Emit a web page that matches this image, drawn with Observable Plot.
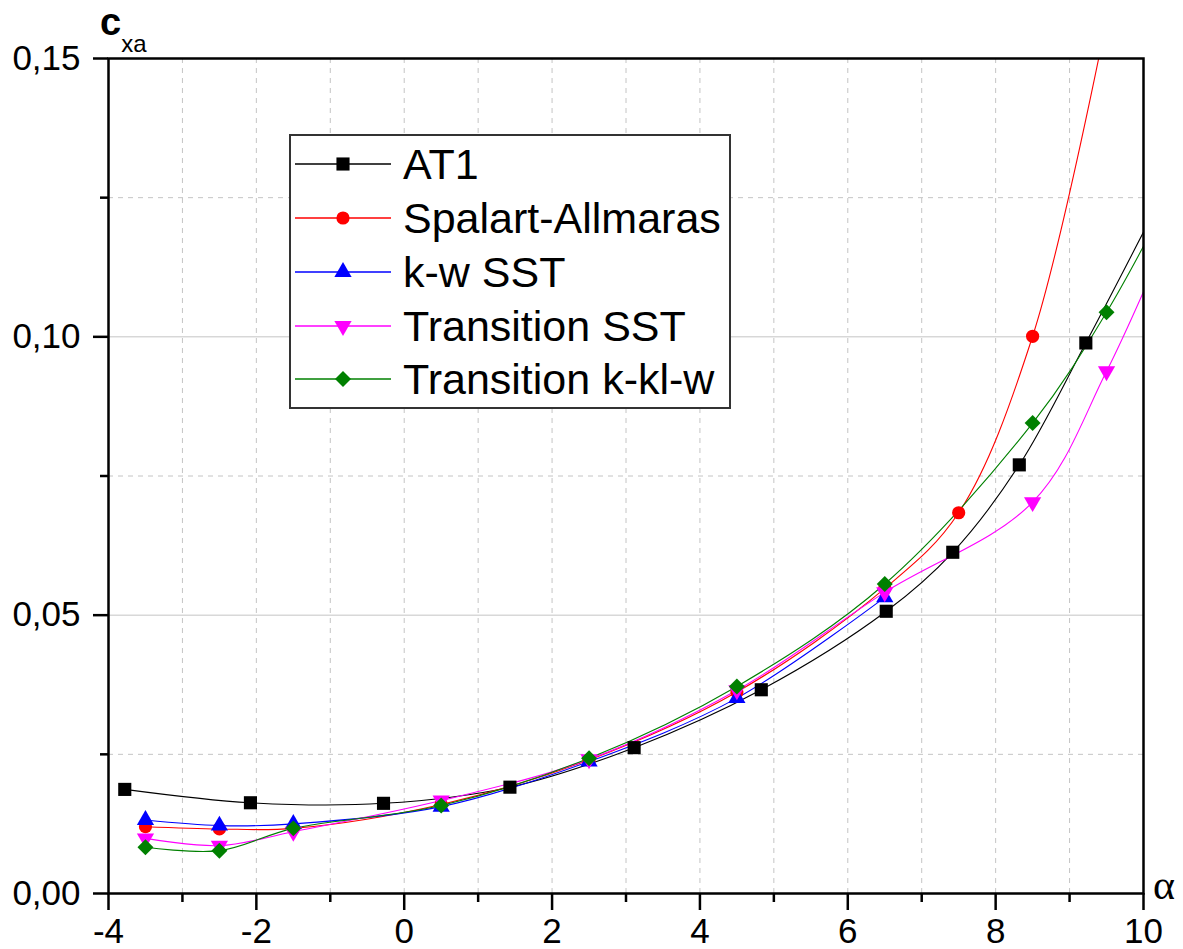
<!DOCTYPE html>
<html>
<head>
<meta charset="utf-8">
<script src="https://cdn.jsdelivr.net/npm/d3@7"></script>
<script src="https://cdn.jsdelivr.net/npm/@observablehq/plot@0.6"></script>
<style>
  html, body { margin: 0; padding: 0; background: #fff; }
  #chart svg { display: block; }
</style>
</head>
<body>
<div id="chart"></div>
<script>
// ---- Data ----
const seriesNames = ["AT1", "Spalart-Allmaras", "k-w SST", "Transition SST", "Transition k-kl-w"];
const seriesColors = ["#000000", "#ff0000", "#0000ff", "#ff00ff", "#008000"];

const alphaAT1 = [-3.78, -2.08, -0.28, 1.43, 3.11, 4.83, 6.52, 7.42, 8.32, 9.22, 10.2];
const cxAT1    = [0.0187, 0.0163, 0.0162, 0.0191, 0.0262, 0.0366, 0.0507, 0.0613, 0.0770, 0.0989, 0.124];

const alphaSA = [-3.5, -2.5, -1.5, 0.5, 2.5, 4.5, 6.5, 7.5, 8.5, 9.5];
const cxSA    = [0.0120, 0.0116, 0.0117, 0.0160, 0.0240, 0.0362, 0.0548, 0.0684, 0.1001, 0.157];

const alphaKW = [-3.5, -2.5, -1.5, 0.5, 2.5, 4.5, 6.5];
const cxKW    = [0.0132, 0.0122, 0.0125, 0.0156, 0.0237, 0.0351, 0.0532];

const alphaTSST = [-3.5, -2.5, -1.5, 0.5, 2.5, 4.5, 6.5, 8.5, 9.5, 10.5];
const cxTSST    = [0.0099, 0.0086, 0.0111, 0.0167, 0.0241, 0.0365, 0.0541, 0.0703, 0.0938, 0.1236];

const alphaKKL = [-3.5, -2.5, -1.5, 0.5, 2.5, 4.5, 6.5, 8.5, 9.5, 10.5];
const cxKKL    = [0.0083, 0.0077, 0.0117, 0.0158, 0.0243, 0.0372, 0.0556, 0.0845, 0.1044, 0.129];

// ticks / gridlines
const xMajorTicks = [-4, -2, 0, 2, 4, 6, 8, 10];
const xMinorTicks = [-3, -1, 1, 3, 5, 7, 9];
const xGrid = [-3, -2, -1, 0, 1, 2, 3, 4, 5, 6, 7, 8, 9];
const yMajorTicks = [0, 0.05, 0.10, 0.15];
const yMinorTicks = [0.025, 0.075, 0.125];
const yGridSolid = [0.05, 0.10];
const yGridDashed = [0.025, 0.075, 0.125];

// ---- build tables ----
const toRows = (xs, ys) => xs.map((a, i) => ({a, c: ys[i]}));
const dataSets = [
  toRows(alphaAT1, cxAT1),
  toRows(alphaSA, cxSA),
  toRows(alphaKW, cxKW),
  toRows(alphaTSST, cxTSST),
  toRows(alphaKKL, cxKKL)
];
const symbols = [
  {symbol: "square", r: 7.4, rotate: 0},
  {symbol: "circle", r: 6.6, rotate: 0},
  {symbol: "triangle", r: 6.4, rotate: 0},
  {symbol: "triangle", r: 6.4, rotate: 180},
  {symbol: "diamond2", r: 7.2, rotate: 0}
];

const fmt = d => d3.format(".2f")(d).replace(".", ",");
const FONT = "'Liberation Sans', Arial, sans-serif";

const lineMarks = dataSets.map((rows, i) =>
  Plot.line(rows, {x: "a", y: "c", stroke: seriesColors[i], strokeWidth: 1.1, curve: "catmull-rom", clip: true}));
const dotMarks = dataSets.map((rows, i) =>
  Plot.dot(rows, {x: "a", y: "c", fill: seriesColors[i], stroke: "none", symbol: symbols[i].symbol, r: symbols[i].r, rotate: symbols[i].rotate, clip: true}));

const plot = Plot.plot({
  width: 1183,
  height: 949,
  marginLeft: 108,
  marginRight: 40,
  marginTop: 58,
  marginBottom: 56,
  x: {domain: [-4, 10]},
  y: {domain: [0, 0.15]},
  style: {fontFamily: FONT, fontSize: "35px", background: "#fff", color: "#000"},
  marks: [
    Plot.ruleX(xGrid, {x: d => d, stroke: "#c4c4c4", strokeWidth: 1, strokeDasharray: "5,5"}),
    Plot.ruleY(yGridDashed, {y: d => d, stroke: "#c4c4c4", strokeWidth: 1, strokeDasharray: "5,5"}),
    Plot.ruleY(yGridSolid, {y: d => d, stroke: "#c4c4c4", strokeWidth: 1}),
    ...lineMarks,
    ...dotMarks,
    Plot.axisX(xMajorTicks, {tickSize: 17, tickPadding: 8, strokeWidth: 2.5, fontSize: 35, tickFormat: d => String(d), label: null}),
    Plot.axisX(xMinorTicks, {tickSize: 9, strokeWidth: 2.5, tickFormat: () => "", label: null}),
    Plot.axisY(yMajorTicks, {tickSize: 15, tickPadding: 13, strokeWidth: 2.5, fontSize: 35, tickFormat: fmt, label: null}),
    Plot.axisY(yMinorTicks, {tickSize: 8, strokeWidth: 2.5, tickFormat: () => "", label: null}),
    Plot.frame({stroke: "#000", strokeWidth: 2.5})
  ]
});

// ---- axis titles ----
const svg = d3.select(plot);
const yTitle = svg.append("text")
  .attr("x", 100).attr("y", 35)
  .attr("text-anchor", "start")
  .attr("font-family", FONT)
  .attr("font-weight", "bold")
  .attr("font-size", 38).attr("fill", "#000");
yTitle.append("tspan").text("c");
yTitle.append("tspan").attr("font-size", 24).attr("font-weight", "normal").attr("dy", 17).text("xa");

svg.append("text")
  .attr("x", 1153).attr("y", 899)
  .attr("text-anchor", "start")
  .attr("font-family", "'Liberation Serif', 'Times New Roman', serif")
  .attr("font-size", 42).attr("fill", "#000")
  .text("α");

// ---- legend ----
const lg = svg.append("g").attr("text-anchor", "start");
lg.append("rect")
  .attr("x", 290).attr("y", 135).attr("width", 440).attr("height", 273)
  .attr("fill", "#fff").attr("stroke", "#333").attr("stroke-width", 2);
const rowY = [164, 218, 272, 326, 379];
const symMap = {square: d3.symbolSquare, circle: d3.symbolCircle, triangle: d3.symbolTriangle, diamond2: d3.symbolDiamond2};
seriesNames.forEach((name, i) => {
  const y = rowY[i];
  lg.append("line").attr("x1", 295).attr("x2", 391).attr("y1", y).attr("y2", y)
    .attr("stroke", seriesColors[i]).attr("stroke-width", 1.5);
  const s = symbols[i];
  lg.append("path")
    .attr("d", d3.symbol(symMap[s.symbol], Math.PI * s.r * s.r)())
    .attr("transform", `translate(343,${y}) rotate(${s.rotate})`)
    .attr("fill", seriesColors[i]);
  lg.append("text").attr("x", 403).attr("y", y).attr("dy", "0.36em")
    .attr("text-anchor", "start")
    .attr("font-family", FONT)
    .attr("font-size", 43).attr("fill", "#000")
    .text(name);
});

document.getElementById("chart").appendChild(plot);
</script>
</body>
</html>
